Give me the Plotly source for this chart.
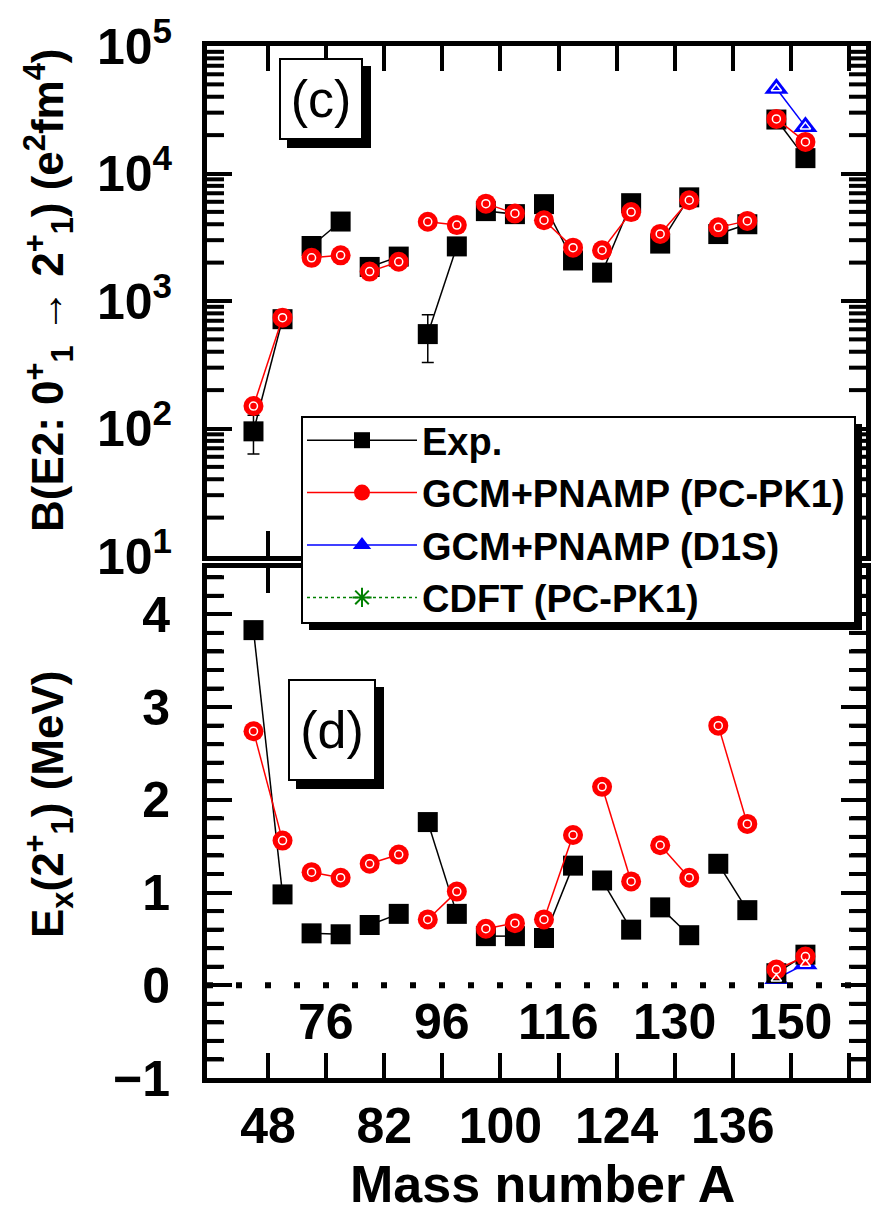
import plotly.graph_objects as go

# ---------------- data ----------------
pair_mass = [48, 76, 82, 96, 100, 116, 124, 130, 136, 150]
nuclei = ["48Ca", "48Ti", "76Ge", "76Se", "82Se", "82Kr", "96Zr", "96Mo", "100Mo", "100Ru",
          "116Cd", "116Sn", "124Sn", "124Te", "130Te", "130Xe", "136Xe", "136Ba", "150Nd", "150Sm"]

be2_exp = [95, 720, 2700, 4200, 1850, 2230, 550, 2680, 5070, 4800,
           5750, 2080, 1670, 5850, 2820, 6500, 3350, 4000, 26500, 13200]
be2_exp_err_plus = [32, None, None, None, None, None, 230, None, None, None,
                    None, None, None, None, None, None, None, None, None, None]
be2_exp_err_minus = [32, None, None, None, None, None, 220, None, None, None,
                     None, None, None, None, None, None, None, None, None, None]
be2_pnamp = [150, 740, 2180, 2280, 1700, 2030, 4180, 3940, 5800, 4860,
             4300, 2620, 2500, 4980, 3360, 6170, 3780, 4250, 26800, 17700]
d1s_nuclei = ["150Nd", "150Sm"]
be2_d1s = [46400, 23300]

ex_exp = [3.83, 0.98, 0.56, 0.55, 0.65, 0.77, 1.76, 0.77, 0.53, 0.53,
          0.51, 1.29, 1.13, 0.60, 0.84, 0.54, 1.31, 0.81, 0.13, 0.33]
ex_pnamp = [2.74, 1.56, 1.22, 1.16, 1.31, 1.41, 0.71, 1.01, 0.61, 0.67,
            0.71, 1.62, 2.14, 1.12, 1.51, 1.16, 2.80, 1.74, 0.17, 0.31]
ex_d1s = [0.07, 0.23]

be2_tickvals = [10, 100, 1000, 10000, 100000]
be2_ticktext = ["10<sup>1</sup>", "10<sup>2</sup>", "10<sup>3</sup>", "10<sup>4</sup>", "10<sup>5</sup>"]

legend_names = ["Exp.", "GCM+PNAMP (PC-PK1)", "GCM+PNAMP (D1S)", "CDFT (PC-PK1)"]

# ---------------- helpers ----------------
FONT = "Liberation Sans, Arial, sans-serif"
W, H = 872, 1222
ML, MR, MT, MB = 207, 6, 46, 144
PW, PH = W - ML - MR, H - MT - MB
BE2_RANGE = [1, 5]          # log10 units
EX_RANGE = [-1, 4.5]
PX_PER_UNIT = 58.1
xr = [(ML - 268) / PX_PER_UNIT, (W - MR - 268) / PX_PER_UNIT]


def px_x(px):
    return (px - ML) / PW


def px_y(py):
    return (H - MB - py) / PH


def xpos(name):
    i = nuclei.index(name)
    return i // 2 + (-0.25 if i % 2 == 0 else 0.25)


def paired(names, vals):
    xs, ys = [], []
    for k in range(0, len(names), 2):
        xs += [xpos(names[k]), xpos(names[k + 1]), None]
        ys += [vals[k], vals[k + 1], None]
    return xs, ys


x_all = [xpos(n) for n in nuclei]
x_d1s = [xpos(n) for n in d1s_nuclei]

fig = go.Figure()

# minor ticks on both sides of both panels (axis decoration, derived from axis ranges)
be2_minor = [m * 10 ** d for d in range(BE2_RANGE[0], BE2_RANGE[1]) for m in range(2, 10)]
ex_minor = [round(EX_RANGE[0] + 0.2 * k, 2) for k in range(0, 28) if k % 5 != 0]
tdx = 17 / PX_PER_UNIT
for xa, ya, vals in [("x", "y", be2_minor), ("x2", "y2", ex_minor)]:
    mx, my = [], []
    for v in vals:
        mx += [xr[0], xr[0] + tdx, None, xr[1] - tdx, xr[1], None]
        my += [v, v, None, v, v, None]
    fig.add_trace(go.Scatter(x=mx, y=my, mode="lines", line=dict(color="black", width=4),
                             xaxis=xa, yaxis=ya, showlegend=False, hoverinfo="skip",
                             cliponaxis=False))

for (xa, ya) in [("x", "y"), ("x2", "y2")]:
    top = ya == "y"
    exp_v = be2_exp if top else ex_exp
    pn_v = be2_pnamp if top else ex_pnamp
    d1_v = be2_d1s if top else ex_d1s

    lx, ly = paired(nuclei, exp_v)
    fig.add_trace(go.Scatter(x=lx, y=ly, mode="lines", line=dict(color="black", width=1.5),
                             xaxis=xa, yaxis=ya, showlegend=False, hoverinfo="skip"))
    if not top:
        dx, dy = paired(d1s_nuclei, d1_v)
        fig.add_trace(go.Scatter(x=dx, y=dy, mode="lines", line=dict(color="blue", width=1.5),
                                 xaxis=xa, yaxis=ya, showlegend=False, hoverinfo="skip"))
        fig.add_trace(go.Scatter(x=x_d1s, y=d1_v, mode="markers",
                                 marker=dict(symbol="triangle-up", size=21, color="blue", line=dict(width=0)),
                                 xaxis=xa, yaxis=ya, showlegend=False))
    ekw = {}
    if top:
        ekw = dict(error_y=dict(type="data", array=be2_exp_err_plus, arrayminus=be2_exp_err_minus,
                                color="black", thickness=1.5, width=6, visible=True))
    fig.add_trace(go.Scatter(x=x_all, y=exp_v, mode="markers", name=legend_names[0],
                             marker=dict(symbol="square", size=20, color="black", line=dict(width=0)),
                             xaxis=xa, yaxis=ya, showlegend=False, **ekw))
    px_, py_ = paired(nuclei, pn_v)
    fig.add_trace(go.Scatter(x=px_, y=py_, mode="lines", line=dict(color="red", width=1.5),
                             xaxis=xa, yaxis=ya, showlegend=False, hoverinfo="skip"))
    fig.add_trace(go.Scatter(x=x_all, y=pn_v, mode="markers", name=legend_names[1],
                             marker=dict(symbol="circle", size=20, color="red", line=dict(width=0)),
                             xaxis=xa, yaxis=ya, showlegend=False))
    fig.add_trace(go.Scatter(x=x_all, y=pn_v, mode="markers",
                             marker=dict(symbol="circle-open", size=8, color="white", line=dict(width=1.5, color="white")),
                             xaxis=xa, yaxis=ya, showlegend=False, hoverinfo="skip"))
    if top:
        dx, dy = paired(d1s_nuclei, d1_v)
        fig.add_trace(go.Scatter(x=dx, y=dy, mode="lines", line=dict(color="blue", width=1.5),
                                 xaxis=xa, yaxis=ya, showlegend=False, hoverinfo="skip"))
        fig.add_trace(go.Scatter(x=x_d1s, y=d1_v, mode="markers", name=legend_names[2],
                                 marker=dict(symbol="triangle-up", size=21, color="blue", line=dict(width=0)),
                                 xaxis=xa, yaxis=ya, showlegend=False))
    fig.add_trace(go.Scatter(x=x_d1s, y=d1_v, mode="markers",
                             marker=dict(symbol="triangle-up-open", size=9, color="white",
                                         line=dict(width=1.5, color="white")),
                             xaxis=xa, yaxis=ya, showlegend=False, hoverinfo="skip"))

# legend entries (legend only, no data)
legend_styles = [
    (dict(color="black", width=1.5), dict(symbol="square", size=20, color="black", line=dict(width=0))),
    (dict(color="red", width=1.5), dict(symbol="circle", size=20, color="red", line=dict(width=0))),
    (dict(color="blue", width=1.5), dict(symbol="triangle-up", size=21, color="blue", line=dict(width=0))),
    (dict(color="green", width=1.5, dash="dot"),
     dict(symbol="asterisk-open", size=20, color="green", line=dict(width=2, color="green"))),
]
for k, (ln, mk) in enumerate(legend_styles):
    fig.add_trace(go.Scatter(x=[None], y=[None], mode="markers+lines", name=legend_names[k],
                             line=ln, marker=mk, showlegend=True, legendrank=k + 1))

n_ticks = len(pair_mass) + 1
x_ticktext = [str(pair_mass[i]) if (i < len(pair_mass) and i % 2 == 0) else "" for i in range(n_ticks)]

axis_common = dict(showline=True, linewidth=5, linecolor="black", mirror="allticks",
                   ticks="inside", ticklen=25, tickwidth=4, tickcolor="black",
                   showgrid=False, zeroline=False)

top_lo = px_y(556)
bot_hi = px_y(568)

fig.update_layout(
    width=W, height=H,
    margin=dict(l=ML, r=MR, t=MT, b=MB, autoexpand=False),
    paper_bgcolor="white", plot_bgcolor="white",
    font=dict(family=FONT, color="black", size=40, weight="bold"),
    xaxis=dict(domain=[0, 1], range=xr, anchor="y", tickvals=list(range(n_ticks)),
               ticktext=[""] * n_ticks, **axis_common),
    yaxis=dict(domain=[top_lo, 1], type="log", range=BE2_RANGE, anchor="x",
               tickvals=be2_tickvals, ticktext=be2_ticktext,
               tickfont=dict(size=50, family=FONT, weight="bold"), ticklabelstandoff=20,
               **axis_common),
    xaxis2=dict(domain=[0, 1], range=xr, anchor="y2", tickvals=list(range(n_ticks)),
                ticktext=x_ticktext, tickfont=dict(size=50, family=FONT, weight="bold"),
                ticklabelstandoff=0, **axis_common),
    yaxis2=dict(domain=[0, bot_hi], range=EX_RANGE, anchor="x2",
                tickmode="linear", tick0=-1, dtick=1,
                minor=dict(ticks="inside", tick0=-1, dtick=0.2, ticklen=15, tickwidth=4,
                           tickcolor="black", showgrid=False),
                tickfont=dict(size=50, family=FONT, weight="bold"), ticklabelstandoff=22,
                **axis_common),
    legend=dict(x=px_x(302), y=px_y(409), xanchor="left", yanchor="top",
                bgcolor="rgba(0,0,0,0)", borderwidth=0,
                font=dict(size=38, family=FONT, weight="bold", color="black"),
                itemwidth=110, tracegroupgap=0, traceorder="normal"),
    showlegend=True,
)

# legend box with drop shadow (drawn under the legend entries)
fig.add_shape(type="rect", xref="paper", yref="paper", x0=px_x(309), x1=px_x(862),
              y0=px_y(630), y1=px_y(424), fillcolor="black", line=dict(width=0), layer="above")
fig.add_shape(type="rect", xref="paper", yref="paper", x0=px_x(302), x1=px_x(855),
              y0=px_y(623), y1=px_y(417), fillcolor="white", line=dict(color="black", width=2),
              layer="above")
# zero reference line (dotted)
fig.add_shape(type="line", xref="x2", yref="y2", x0=xr[0], x1=xr[1], y0=0, y1=0,
              line=dict(color="black", width=6, dash="6px,23px"))

annots = []
for i in range(1, len(pair_mass), 2):
    annots.append(dict(x=i, y=-0.4, xref="x2", yref="y2", text=str(pair_mass[i]), showarrow=False,
                       font=dict(size=50, family=FONT, weight="bold"), xanchor="center", yanchor="middle"))
annots.append(dict(x=px_x(542), y=px_y(1184), xref="paper", yref="paper", text="Mass number A",
                   showarrow=False, font=dict(size=52, family=FONT, weight="bold"),
                   xanchor="center", yanchor="middle"))
annots.append(dict(x=px_x(48), y=px_y(290), xref="paper", yref="paper", textangle=-90,
                   text="B(E2: 0<sup>+</sup><sub>1</sub> \u2192 2<sup>+</sup><sub>1</sub>) (e<sup>2</sup>fm<sup>4</sup>)",
                   showarrow=False, font=dict(size=44, family=FONT, weight="bold"),
                   xanchor="center", yanchor="middle"))
annots.append(dict(x=px_x(48), y=px_y(805), xref="paper", yref="paper", textangle=-90,
                   text="E<sub>x</sub>(2<sup>+</sup><sub>1</sub>) (MeV)",
                   showarrow=False, font=dict(size=44, family=FONT, weight="bold"),
                   xanchor="center", yanchor="middle"))
for lab, cx, cy, w, h in [("(c)", 320.5, 99, 80, 78), ("(d)", 332, 730, 84, 98)]:
    annots.append(dict(x=px_x(cx + 8), y=px_y(cy + 8), xref="paper", yref="paper", text=" ",
                       showarrow=False, width=w, height=h, bgcolor="black", borderpad=0,
                       borderwidth=2, bordercolor="black", xanchor="center", yanchor="middle"))
    annots.append(dict(x=px_x(cx), y=px_y(cy), xref="paper", yref="paper", text=lab,
                       showarrow=False, width=w, height=h, bgcolor="white", borderpad=0,
                       borderwidth=2, bordercolor="black", xanchor="center", yanchor="middle",
                       font=dict(size=52, family=FONT, weight="normal")))
fig.update_layout(annotations=annots)

fig.write_html("out.html")
